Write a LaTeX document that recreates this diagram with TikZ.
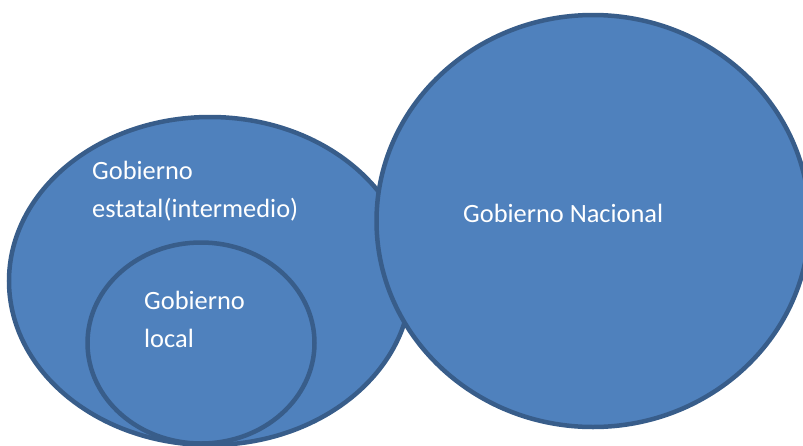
\documentclass[tikz,border=0pt]{standalone}
\usepackage{fontspec}
\setmainfont{Carlito}
\usetikzlibrary{shapes.geometric}
\definecolor{fillblue}{HTML}{4F81BD}
\definecolor{edgeblue}{HTML}{385D8A}
\tikzset{
  blob/.style={ellipse, draw=edgeblue, fill=fillblue, line width=4.5pt, inner sep=0pt},
  lbl/.style={anchor=base west, inner sep=0pt, text=white, font=\fontsize{26.4}{32}\selectfont}
}
\begin{document}
\begin{tikzpicture}[x=1pt,y=-1pt]
\clip (0,0) rectangle (803,445);
\node[blob, minimum width=402pt, minimum height=328pt] (estatal) at (210,281) {};
\node[blob, minimum width=227pt, minimum height=201pt] (local) at (201,343) {};
\node[blob, minimum width=433pt, minimum height=412pt] (nacional) at (593,221) {};
\node[lbl] (t1) at (92,179) {Gobierno};
\node[lbl] (t2) at (92,217) {estatal(intermedio)};
\node[lbl] (t3) at (144,309) {Gobierno};
\node[lbl] (t4) at (144,347) {local};
\node[lbl] (t5) at (463,222) {Gobierno Nacional};
\end{tikzpicture}
\end{document}
